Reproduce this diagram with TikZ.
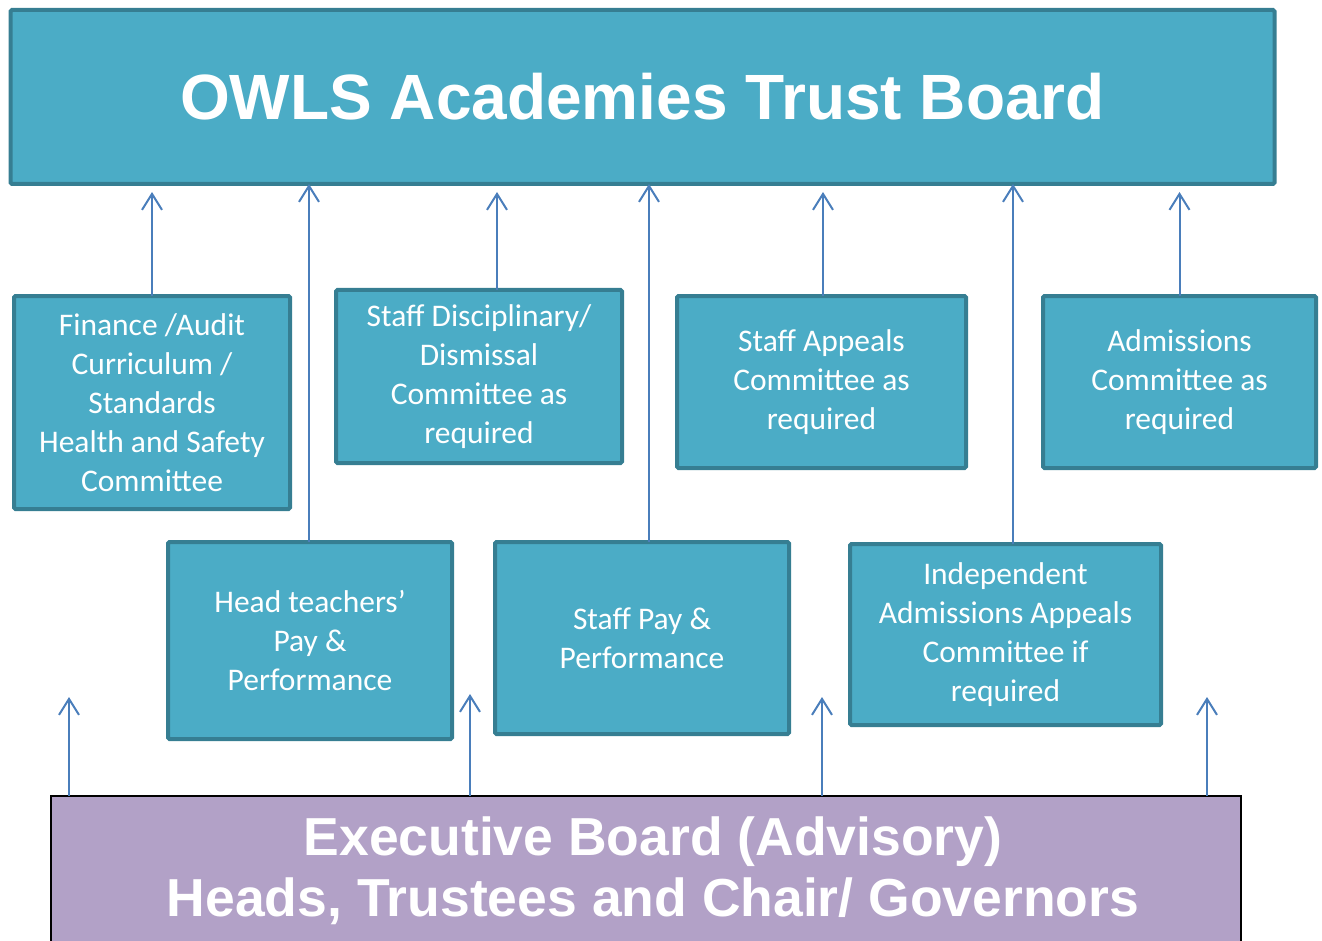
\documentclass[tikz,border=0pt]{standalone}
\usepackage{fontspec}
\setmainfont{Carlito}
\newfontfamily\headfont{Liberation Sans}
\usepackage{tikz}
\usetikzlibrary{arrows.meta}
\usetikzlibrary{positioning}
\usepackage{xcolor}
\definecolor{boxfill}{HTML}{4BACC6}
\definecolor{boxline}{HTML}{367E92}
\definecolor{arrowblue}{HTML}{4A7EBB}
\definecolor{execfill}{HTML}{B2A1C7}

\begin{document}
\begin{tikzpicture}[x=1pt, y=-1pt,
    box/.style={draw=boxline, fill=boxfill, line width=4pt, rounded corners=1.5pt,
      inner sep=0pt, outer sep=0pt, align=center, text=white,
      font=\fontsize{31.5}{39}\selectfont},
    up/.style={draw=arrowblue, line width=2pt, -{Straight Barb[length=16pt, width=20pt]}}]
     \useasboundingbox (0,0) rectangle (1322,941);

     \node[box, minimum width=1264, minimum height=174,
       font=\headfont\bfseries\fontsize{64}{70}\selectfont] (top) at (642.5, 97) {OWLS Academies Trust Board};

     \node[box, minimum width=276, minimum height=213] (fin) at (152, 402.5)
       {Finance /Audit\\Curriculum /\\Standards\\Health and Safety\\Committee};
     \node[box, minimum width=286, minimum height=173] (disc) at (479, 376.5)
       {Staff Disciplinary/\\Dismissal\\Committee as\\required};
     \node[box, minimum width=289, minimum height=172] (appeals) at (821.5, 382)
       {Staff Appeals\\Committee as\\required};
     \node[box, minimum width=273, minimum height=172] (adm) at (1179.5, 382)
       {Admissions\\Committee as\\required};

     \node[box, minimum width=284, minimum height=197] (head) at (310, 640.5)
       {Head teachers’\\Pay \&\\Performance};
     \node[box, minimum width=294, minimum height=192] (pay) at (642, 638)
       {Staff Pay \&\\Performance};
     \node[box, minimum width=311, minimum height=181] (indep) at (1005.5, 634.5)
       {Independent\\Admissions Appeals\\Committee if\\required};

     \node[draw=black, fill=execfill, line width=2pt, inner sep=0pt, outer sep=0pt,
       minimum width=1190, minimum height=170, anchor=north] (exec) at (646, 796) {};
     \node[text=white, align=center, font=\headfont\bfseries\fontsize{53.5}{61}\selectfont] (execlabel)
       at (653, 871) {Executive Board (Advisory)\\Heads, Trustees and Chair/ Governors};

     \draw[up] (fin.north) -- (fin.north |- top.south) [shorten >=8pt];
     \draw[up] ([xshift=18pt]disc.north) -- ([xshift=18pt]disc.north |- top.south) [shorten >=8pt];
     \draw[up] ([xshift=1.5pt]appeals.north) -- ([xshift=1.5pt]appeals.north |- top.south) [shorten >=8pt];
     \draw[up] (adm.north) -- (adm.north |- top.south) [shorten >=8pt];

     \draw[up] ([xshift=-1pt]head.north) -- ([xshift=-1pt]head.north |- top.south);
     \draw[up] ([xshift=7pt]pay.north) -- ([xshift=7pt]pay.north |- top.south);
     \draw[up] ([xshift=7.5pt]indep.north) -- ([xshift=7.5pt]indep.north |- top.south);

     % advisory links from the executive board
     \coordinate (e1) at (69, 697);
     \coordinate (e2) at (470, 694);
     \coordinate (e3) at (822, 697);
     \coordinate (e4) at (1207, 697);
     \foreach \c in {e1, e2, e3, e4}
       \draw[up] (exec.north -| \c) -- (\c);
\end{tikzpicture}
\end{document}
